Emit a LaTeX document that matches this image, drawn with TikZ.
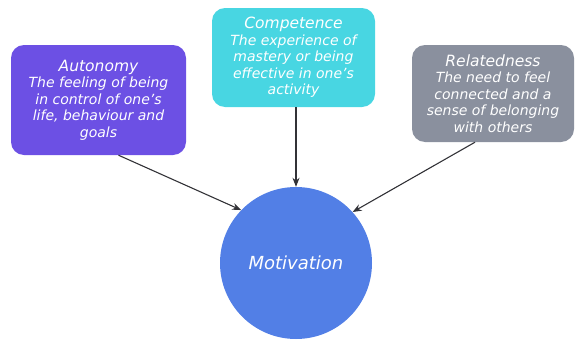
\documentclass[tikz,border=0pt]{standalone}
\usepackage{fontspec}
\setmainfont{DejaVu Sans}
\usetikzlibrary{calc,arrows.meta}
\definecolor{cauto}{RGB}{108,80,228}
\definecolor{ccomp}{RGB}{72,214,226}
\definecolor{crel}{RGB}{138,144,158}
\definecolor{cmot}{RGB}{82,127,230}
\definecolor{carr}{RGB}{50,50,55}
\tikzset{
  card/.style={rounded corners=13pt, inner sep=0pt, text=white, align=center,
    font=\fontsize{14}{16.5}\selectfont\itshape},
  hub/.style={circle, fill=cmot, minimum size=152pt, inner sep=0pt, text=white,
    font=\fontsize{18}{20}\selectfont\itshape},
  arr/.style={draw=carr, line width=1.1pt, -{Stealth[length=9pt,width=7pt]}}
}
\newcommand{\cardtitle}[1]{{\fontsize{15.5}{16.5}\selectfont #1}}
\begin{document}
\begin{tikzpicture}[x=1pt,y=-1pt]
\useasboundingbox (0,0) rectangle (575,340);
\node[card, fill=cauto, minimum width=175pt, minimum height=110pt] (auto) at (98.5,100)
  {\cardtitle{Autonomy}\\The feeling of being\\in control of one's\\life, behaviour and\\goals};
\node[card, fill=ccomp, minimum width=163pt, minimum height=99pt] (comp) at (293.5,57.5)
  {\cardtitle{Competence}\\The experience of\\mastery or being\\effective in one's\\activity};
\node[card, fill=crel, minimum width=162pt, minimum height=97pt] (rel) at (493,93.5)
  {\cardtitle{Relatedness}\\The need to feel\\connected and a\\sense of belonging\\with others};
\node[hub] (mot) at (296,263) {Motivation};
\draw[arr] ($(auto.south)+(20,0)$) -- (mot.136);
\draw[arr] (comp.south -| mot.north) -- (mot.north);
\draw[arr] ($(rel.south)+(-18,0)$) -- (mot.42);
\end{tikzpicture}
\end{document}
